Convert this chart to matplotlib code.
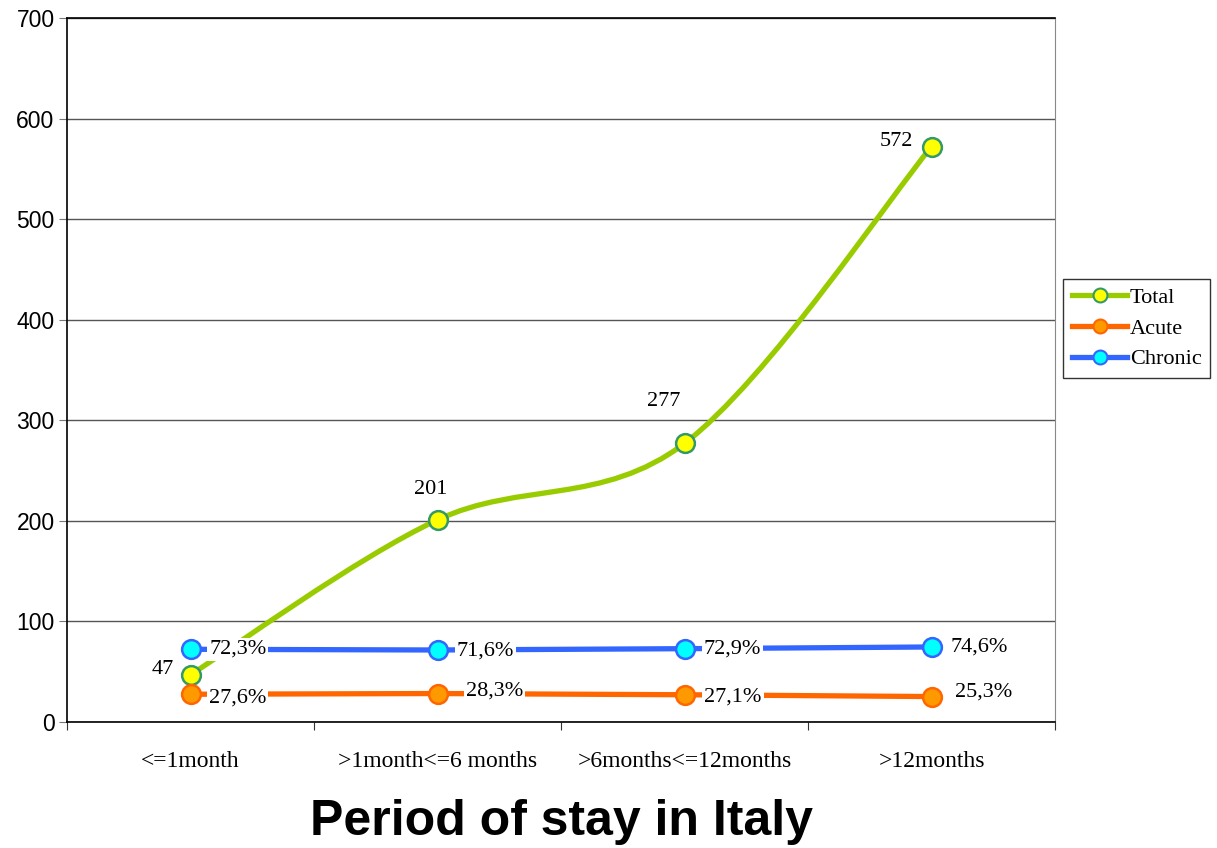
import numpy as np
import matplotlib
matplotlib.use("Agg")
import matplotlib.pyplot as plt
from matplotlib.path import Path
from matplotlib.patches import PathPatch
from matplotlib.lines import Line2D

categories = ["<=1month", ">1month<=6 months", ">6months<=12months", ">12months"]
total = [47, 201, 277, 572]
acute = [27.6, 28.3, 27.1, 25.3]
chronic = [72.3, 71.6, 72.9, 74.6]
acute_labels = ["27,6%", "28,3%", "27,1%", "25,3%"]
chronic_labels = ["72,3%", "71,6%", "72,9%", "74,6%"]

serif = "Liberation Serif"
sans = "Liberation Sans"

fig = plt.figure(figsize=(12.17, 8.48), dpi=100)
ax = fig.add_axes([67 / 1217, 126 / 848, 988 / 1217, 704 / 848])

x = np.arange(len(categories))

# Smoothed line for the totals (Catmull-Rom style Bezier, as the spreadsheet does)
pts = np.column_stack([x, total]).astype(float)
verts = [tuple(pts[0])]
codes = [Path.MOVETO]
n = len(pts)
for i in range(n - 1):
    p0 = pts[i - 1] if i > 0 else pts[i]
    p1 = pts[i]
    p2 = pts[i + 1]
    p3 = pts[i + 2] if i + 2 < n else pts[i + 1]
    c1 = p1 + (p2 - p0) / 6.0
    c2 = p2 - (p3 - p1) / 6.0
    verts += [tuple(c1), tuple(c2), tuple(p2)]
    codes += [Path.CURVE4] * 3
ax.add_patch(PathPatch(Path(verts, codes), fill=False, edgecolor="#99CC00",
                       lw=3.8, zorder=3, capstyle="round"))

ax.plot(x, acute, "-", color="#FF6600", lw=3.8, zorder=4)
ax.plot(x, chronic, "-", color="#3366FF", lw=3.8, zorder=4)

ax.plot(x, total, "o", ms=13.5, mfc="#FFFF00", mec="#339966", mew=1.8, zorder=7)
ax.plot(x, acute, "o", ms=13.5, mfc="#FF9900", mec="#FF6600", mew=1.8, zorder=7)
ax.plot(x, chronic, "o", ms=13.5, mfc="#00FFFF", mec="#3366FF", mew=1.8, zorder=7)

box = dict(facecolor="white", edgecolor="none", pad=1.5)
fs = 16

# total labels
tot_off = [(-20, 3.5), (-5, 22), (-15, 30), (-25, 3.5)]
for i, v in enumerate(total):
    ax.annotate(str(v), (x[i], v), xytext=tot_off[i], textcoords="offset points",
                ha="center", va="center", fontsize=fs, family=serif, zorder=6)

chr_off = [(34, 0), (34.5, -1), (34.5, 0), (34, 0)]
for i, v in enumerate(chronic):
    ax.annotate(chronic_labels[i], (x[i], v), xytext=chr_off[i], textcoords="offset points",
                ha="center", va="center", fontsize=fs, family=serif, bbox=box, zorder=6)

acu_off = [(34, -2.5), (41, 2), (35, -2), (37.5, 3)]
for i, v in enumerate(acute):
    ax.annotate(acute_labels[i], (x[i], v), xytext=acu_off[i], textcoords="offset points",
                ha="center", va="center", fontsize=fs, family=serif, bbox=box, zorder=6)

ax.set_xlim(-0.5, len(categories) - 0.5)
ax.set_ylim(0, 700)
ax.set_yticks(np.arange(0, 701, 100))
ax.set_yticklabels([str(v) for v in range(0, 701, 100)], family=sans, fontsize=16.5)
ax.yaxis.grid(True, color="#555555", lw=1)
ax.set_axisbelow(True)

ax.set_xticks(np.arange(-0.5, len(categories), 1.0))
ax.set_xticklabels([])
ax.set_xticks(x, minor=True)
ax.set_xticklabels(categories, minor=True, family=serif, fontsize=17)
ax.tick_params(axis="x", which="minor", length=0, pad=21)
ax.tick_params(axis="x", which="major", length=6, color="#333333", direction="out")
ax.tick_params(axis="y", length=6, color="#777777", direction="out", pad=3)

for s in ["left", "bottom", "top"]:
    ax.spines[s].set_color("black")
    ax.spines[s].set_linewidth(1.2)
ax.spines["right"].set_color("#888888")

fig.text(561 / 1217, 1 - 822 / 848, "Period of stay in Italy", ha="center", va="center",
         family=sans, fontweight="bold", fontsize=36)

handles = [
    Line2D([], [], color="#99CC00", lw=3.8, marker="o", ms=10, mfc="#FFFF00", mec="#339966", mew=1.5),
    Line2D([], [], color="#FF6600", lw=3.8, marker="o", ms=10, mfc="#FF9900", mec="#FF6600", mew=1.5),
    Line2D([], [], color="#3366FF", lw=3.8, marker="o", ms=10, mfc="#00FFFF", mec="#3366FF", mew=1.5),
]
leg = fig.legend(handles, ["Total", "Acute", "Chronic"], loc="center left",
                 bbox_to_anchor=(1063 / 1217, 1 - 328.5 / 848), prop={"family": serif, "size": 16},
                 frameon=True, fancybox=False, edgecolor="black", handlelength=2.5,
                 borderpad=0.4, labelspacing=0.45, handletextpad=0.1, borderaxespad=0)
leg.get_frame().set_linewidth(1.0)

fig.savefig("out.png", dpi=100)
